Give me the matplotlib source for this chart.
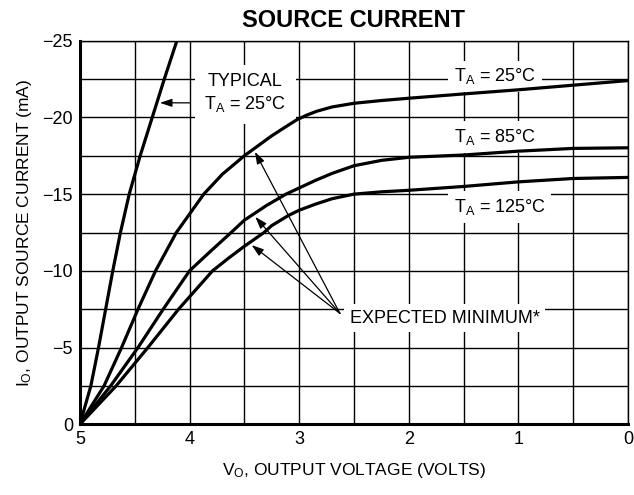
import numpy as np
import matplotlib
matplotlib.use("Agg")
import matplotlib.pyplot as plt
from matplotlib.ticker import MultipleLocator

plt.rcParams['font.family'] = ['Liberation Sans Narrow', 'Liberation Sans', 'DejaVu Sans']
plt.rcParams['mathtext.default'] = 'regular'

# typical curve, 25 C
typ_v = [5.0, 4.90, 4.83, 4.765, 4.70, 4.63, 4.55, 4.45, 4.34, 4.23, 4.115]
typ_i = [0, -2.5, -5, -7.5, -10, -12.5, -15, -17.5, -20, -22.5, -25]

# expected minimum curves
c25_v = [5.0, 4.78, 4.62, 4.47, 4.31, 4.12, 3.87, 3.70, 3.50, 3.25, 3.12, 3.02, 2.93, 2.84,
         2.7, 2.5, 2.25, 2.0, 1.5, 1.0, 0.5, 0.0]
c25_i = [0, -2.5, -5, -7.5, -10, -12.5, -15, -16.3, -17.5, -18.8, -19.4, -19.85, -20.15,
         -20.4, -20.68, -20.92, -21.1, -21.25, -21.53, -21.8, -22.1, -22.4]

c85_v = [5.0, 4.72, 4.47, 4.24, 4.0, 3.82, 3.62, 3.5, 3.3, 3.12, 3.0, 2.85, 2.7, 2.5, 2.25,
         2.0, 1.5, 1.0, 0.5, 0.0]
c85_i = [0, -2.5, -5, -7.5, -10, -11.2, -12.5, -13.3, -14.25, -15.0, -15.4, -15.9, -16.35,
         -16.85, -17.2, -17.4, -17.55, -17.8, -17.98, -18.02]

c125_v = [5.0, 4.67, 4.38, 4.10, 3.79, 3.64, 3.5, 3.32, 3.25, 3.1, 3.0, 2.85, 2.7, 2.5, 2.25,
          2.0, 1.5, 1.0, 0.5, 0.0]
c125_i = [0, -2.5, -5, -7.5, -10, -10.85, -11.6, -12.5, -12.95, -13.6, -13.95, -14.35, -14.7,
          -15.0, -15.15, -15.25, -15.5, -15.8, -16.02, -16.09]

fig = plt.figure(figsize=(6.34, 4.95), dpi=100)
ax = fig.add_axes([0.126, 0.1428, 0.8645, 0.775])

for v, i in [(typ_v, typ_i), (c25_v, c25_i), (c85_v, c85_i), (c125_v, c125_i)]:
    ax.plot(v, i, color='black', lw=2.3, solid_joinstyle='round', zorder=3)

ax.set_xlim(5, 0)
ax.set_ylim(0, -25)
ax.xaxis.set_major_locator(MultipleLocator(1))
ax.xaxis.set_minor_locator(MultipleLocator(0.5))
ax.yaxis.set_major_locator(MultipleLocator(5))
ax.yaxis.set_minor_locator(MultipleLocator(2.5))
ax.set_axisbelow(True)
ax.grid(which='both', color='black', lw=1.0)
ax.tick_params(which='both', length=0, labelsize=13, pad=5)

ax.spines['left'].set_linewidth(2.2)
ax.spines['bottom'].set_linewidth(2.2)
ax.spines['top'].set_linewidth(1.0)
ax.spines['right'].set_linewidth(1.0)

ax.set_title('SOURCE CURRENT', fontsize=17, fontweight='bold',
             family=['Liberation Sans', 'DejaVu Sans'], pad=10)
ax.set_xlabel('V$_O$, OUTPUT VOLTAGE (VOLTS)', fontsize=12.5, labelpad=9)
ax.set_ylabel('I$_O$, OUTPUT SOURCE CURRENT (mA)', fontsize=12.5, labelpad=6)

box = dict(facecolor='white', edgecolor='none', pad=4)
tsize = 13
ax.text(3.49, -21.55, 'TYPICAL\nT$_A$ = 25°C', fontsize=tsize, ha='center', va='center',
        linespacing=1.25, bbox=dict(facecolor='white', edgecolor='none', pad=7), zorder=1)
ax.text(1.214, -22.69, 'T$_A$ = 25°C', fontsize=tsize, ha='center', va='center', bbox=box, zorder=1)
ax.text(1.214, -18.72, 'T$_A$ = 85°C', fontsize=tsize, ha='center', va='center', bbox=box, zorder=1)
ax.text(1.17, -14.16, 'T$_A$ = 125°C', fontsize=tsize, ha='center', va='center', bbox=box, zorder=1)
ax.text(2.54, -6.92, 'EXPECTED MINIMUM*', fontsize=tsize, ha='left', va='center', bbox=box, zorder=1)

arrow = dict(arrowstyle='-|>,head_length=0.6,head_width=0.2', color='black', lw=0.9,
             mutation_scale=12, shrinkA=0, shrinkB=0)
ax.annotate('', xy=(4.27, -20.95), xytext=(3.996, -20.95), arrowprops=arrow, zorder=4)
tail = (2.628, -7.23)
for head in [(3.403, -17.76), (3.40, -13.52), (3.433, -11.68)]:
    ax.annotate('', xy=head, xytext=tail, arrowprops=arrow, zorder=4)

fig.savefig('out.png', dpi=100)
